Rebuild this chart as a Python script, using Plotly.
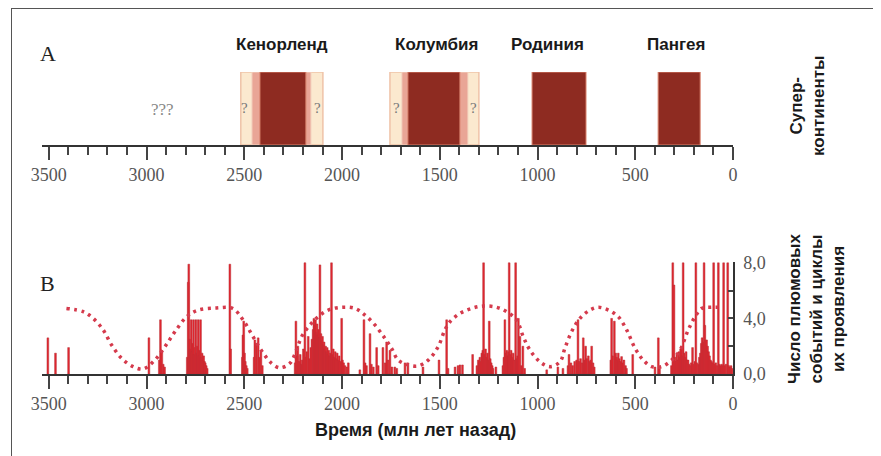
import plotly.graph_objects as go

# ---------------- data ----------------
# Supercontinents (million years ago)
sc_names = ["Кенорленд", "Колумбия", "Родиния", "Пангея"]
sc_start = [2420, 1663, 1028, 383]
sc_end = [2185, 1397, 752, 168]
sc_label_age = [2305, 1515, 947, 292]

# uncertainty bands (Kenorland, Columbia)
unc_outer_start = [2518, 1755]
unc_outer_end = [2098, 1300]
unc_inner_start = [2461, 1694]
unc_inner_end = [2159, 1356]
q_ages = [2497, 2124, 1719, 1330]
qqq_age = 2917

# Plume events (age, count)
plume_age = [3505, 3466, 3399, 2988, 2935, 2929, 2922, 2915, 2908,
             2792, 2787, 2784, 2780, 2776, 2772, 2768, 2764, 2760, 2756, 2752, 2748,
             2744, 2740, 2736, 2732, 2728, 2724, 2720, 2716, 2712, 2708, 2704, 2700,
             2695, 2690, 2574, 2570, 2510, 2507, 2503, 2499, 2495, 2490, 2485,
             2450, 2446, 2438, 2429, 2424, 2415, 2408,
             2240, 2236, 2230, 2226, 2220, 2214, 2208, 2204, 2198, 2190, 2185, 2180,
             2173, 2166, 2160, 2154, 2148, 2144, 2140, 2136, 2132, 2128, 2124, 2120,
             2116, 2113, 2108, 2104, 2100, 2096, 2092, 2088, 2084, 2080, 2076, 2072,
             2068, 2064, 2060, 2054, 2050, 2045, 2040, 2035, 2030, 2025, 2020, 2015,
             2010, 2002, 1998, 1992, 1985, 1975, 1968,
             1909, 1888, 1882, 1875, 1857, 1850, 1840, 1823, 1815, 1791, 1780, 1772,
             1765, 1755, 1745, 1730, 1720, 1678, 1663, 1586, 1504, 1465, 1458, 1422,
             1407, 1397, 1384, 1332, 1310, 1303, 1298, 1295, 1290, 1285, 1280, 1276,
             1271, 1266, 1261, 1256, 1251, 1247, 1242, 1237, 1232, 1228, 1213,
             1177, 1172, 1167, 1162, 1157, 1152, 1148, 1145, 1140, 1135, 1130, 1125,
             1120, 1112, 1108, 1102, 1098, 1090, 1083, 1075, 1066,
             953, 896, 870, 844, 839, 829, 820, 810, 800, 793, 788, 780, 772, 766,
             760, 754, 748, 740, 734, 728, 723, 716, 710,
             625, 621, 616, 607, 600, 595, 590, 587, 582, 577, 570, 565, 558, 550,
             545, 513, 399, 382, 376,
             315, 308, 302, 297, 292, 287, 282, 277, 272, 268, 263, 259, 255, 250,
             245, 240, 235, 230, 225, 220, 214, 207, 200, 195, 190, 185, 178, 172,
             167, 162, 158, 153, 148, 144, 140, 135, 130, 125, 120, 115, 110, 105,
             99, 94, 88, 82, 75, 70, 64, 58, 53, 48, 42, 36, 27, 22, 16, 10, 5]
plume_val = [2.6, 1.5, 1.9, 2.6, 1.0, 3.9, 1.7, 0.7, 0.5,
             1.2, 6.6, 7.9, 2.5, 1.8, 3.9, 1.6, 2.2, 3.9, 1.4, 1.9, 3.9,
             1.5, 2.0, 3.9, 1.3, 1.7, 3.9, 1.2, 1.5, 1.0, 1.3, 0.9, 0.8,
             0.6, 0.4, 7.9, 1.8, 1.2, 2.8, 3.8, 1.5, 0.9, 0.6, 0.4,
             1.2, 2.45, 2.2, 2.6, 1.2, 1.7, 0.6,
             0.8, 3.8, 1.3, 2.0, 0.9, 1.4, 0.7, 1.0, 1.8, 8.0, 1.2, 1.6,
             2.7, 1.1, 1.9, 2.5, 3.2, 4.0, 3.5, 3.9, 3.0, 3.6, 2.8, 3.2,
             2.6, 7.85, 2.9, 2.4, 2.7, 2.1, 2.3, 1.8, 2.0, 1.6, 1.9, 1.4,
             1.7, 1.3, 1.5, 8.0, 1.4, 1.8, 1.2, 1.6, 1.1, 1.5, 1.0, 1.3,
             0.9, 4.0, 1.0, 0.8, 0.6, 0.5, 0.8,
             0.3, 3.9, 0.8, 0.6, 2.9, 0.7, 0.5, 1.9, 0.6, 1.9, 0.8, 2.3,
             1.0, 1.7, 0.5, 0.5, 0.4, 0.8, 0.8, 0.5, 1.0, 3.9, 0.4, 0.5,
             0.6, 0.65, 0.65, 1.4, 0.6, 1.0, 0.8, 1.2, 0.9, 1.5, 1.7, 8.0,
             1.4, 1.8, 1.2, 1.5, 1.0, 3.8, 1.1, 0.8, 0.6, 0.4, 0.5,
             0.6, 1.2, 3.9, 1.5, 1.7, 1.3, 1.6, 8.0, 1.4, 1.7, 1.2, 1.5,
             1.0, 8.0, 1.1, 1.3, 4.0, 2.7, 0.6, 2.0, 0.4,
             0.3, 0.5, 0.4, 0.6, 1.4, 0.8, 0.6, 0.9, 1.0, 3.9, 0.9, 1.1, 0.8, 2.6,
             1.0, 2.0, 1.1, 1.3, 0.9, 1.0, 2.0, 0.8, 0.5,
             1.0, 4.0, 1.3, 3.8, 1.5, 1.2, 1.0, 1.5, 1.1, 0.9, 1.25, 0.8, 1.0, 0.6,
             0.4, 1.4, 0.5, 2.6, 0.4,
             0.6, 8.0, 6.4, 1.2, 0.9, 1.4, 1.0, 1.6, 1.2, 1.8, 2.0, 1.3, 8.0, 1.5,
             1.2, 1.6, 1.0, 1.0, 0.7, 0.6, 0.8, 1.9, 0.7, 0.9, 8.0, 0.8, 0.7, 1.2,
             1.5, 2.2, 2.6, 2.3, 8.0, 3.5, 2.4, 2.45, 2.0, 1.6, 1.3, 1.0, 0.9, 0.8,
             8.0, 0.7, 0.8, 0.6, 8.0, 0.7, 0.6, 0.7, 0.6, 8.0, 0.6, 0.7, 8.0, 0.6, 0.5, 0.6, 0.4]

# Cycles of plume activity (dotted curve)
cycle_age = [3410, 3324, 3273, 3222, 3179, 3128, 3069, 3017, 2958, 2906, 2855,
             2795, 2736, 2642, 2560, 2506, 2455, 2403, 2360, 2318, 2267, 2233,
             2207, 2164, 2122, 2071, 2002, 1934, 1883, 1832, 1781, 1745, 1713,
             1661, 1610, 1559, 1508, 1474, 1448, 1397, 1337, 1277, 1209, 1158,
             1107, 1073, 1039, 988, 936, 885, 860, 826, 783, 732, 689, 638, 587,
             544, 501, 459, 416, 365, 314, 271, 229, 194, 160, 109, 50]
cycle_val = [4.72, 4.48, 4.0, 3.17, 2.09, 1.13, 0.53, 0.36, 1.0, 1.96, 3.04,
             4.12, 4.6, 4.75, 4.72, 3.88, 2.68, 1.49, 0.77, 0.45, 0.77, 1.73,
             2.68, 3.53, 4.12, 4.6, 4.8, 4.72, 4.24, 3.53, 2.57, 1.8, 1.0,
             0.65, 0.58, 1.0, 1.97, 3.17, 3.76, 4.36, 4.72, 4.89, 4.8, 4.48,
             3.88, 2.68, 1.73, 0.88, 0.53, 0.88, 1.85, 3.04, 4.0, 4.6, 4.8, 4.6, 4.12,
             3.17, 1.85, 1.0, 0.53, 0.53, 1.0, 1.73, 3.17, 4.12, 4.72, 4.8, 4.8]

x_tickvals = [3500, 3000, 2500, 2000, 1500, 1000, 500, 0]
x_ticktext = ["3500", "3000", "2500", "2000", "1500", "1000", "500", "0"]
y_tickvals = [0, 4, 8]
y_ticktext = ["0,0", "4,0", "8,0"]

# ---------------- layout helpers ----------------
OFF = 8                      # page body margin in the browser
W, H = 881 - OFF, 456 - OFF  # figure size so it fills the window exactly

def px_x(p):
    return (p - OFF) / W

def px_y(p):
    return 1 - (p - OFF) / H

SERIF = "Liberation Serif"
SANS = "Liberation Sans"
TICKC = "#444"
LABC = "#555"

fig = go.Figure()

# top panel: supercontinents
fig.add_trace(go.Bar(
    x=[s - e for s, e in zip(unc_outer_start, unc_outer_end)], base=unc_outer_end,
    y=[0.5] * len(unc_outer_end), orientation="h", width=1,
    marker=dict(color="#fbe9cf", line=dict(color="#efc3a8", width=1.5)),
    xaxis="x", yaxis="y", hoverinfo="skip", showlegend=False))
fig.add_trace(go.Bar(
    x=[s - e for s, e in zip(unc_inner_start, unc_inner_end)], base=unc_inner_end,
    y=[0.5] * len(unc_inner_end), orientation="h", width=1,
    marker=dict(color="#e9a596", line=dict(color="#f3d3c0", width=1)),
    xaxis="x", yaxis="y", hoverinfo="skip", showlegend=False))
fig.add_trace(go.Bar(
    x=[s - e for s, e in zip(sc_start, sc_end)], base=sc_end,
    y=[0.5] * len(sc_end), orientation="h", width=1,
    marker=dict(color="#8e2b21", line=dict(color="#d9826c", width=1)),
    xaxis="x", yaxis="y", hoverinfo="skip", showlegend=False))

# bottom panel: plume events
fig.add_trace(go.Bar(
    x=plume_age, y=plume_val, width=9,
    marker=dict(color="#e3262e", line=dict(color="#b83038", width=0.5)),
    xaxis="x2", yaxis="y2", hoverinfo="skip", showlegend=False))
fig.add_trace(go.Scatter(
    x=cycle_age, y=cycle_val, mode="lines",
    line=dict(color="#d53a4c", width=3.5, dash="3px,4.5px", shape="spline", smoothing=1.0),
    xaxis="x2", yaxis="y2", hoverinfo="skip", showlegend=False))

xdom = [px_x(42), px_x(733)]
xaxis_common = dict(
    range=[3535, 0], domain=xdom, showgrid=False, zeroline=False,
    showline=True, linecolor="#333", linewidth=1.5,
    ticks="outside", ticklen=13, tickwidth=2, tickcolor=TICKC,
    tickvals=x_tickvals, ticktext=x_ticktext,
    tickfont=dict(family=SERIF, size=18, color=LABC),
    minor=dict(dtick=100, tick0=0, ticks="outside", ticklen=8, tickwidth=2, tickcolor=TICKC),
    fixedrange=True, automargin=False,
)

fig.update_layout(
    width=W, height=H,
    margin=dict(l=0, r=0, t=0, b=0, pad=0, autoexpand=False),
    paper_bgcolor="white", plot_bgcolor="white",
    barmode="overlay",
    xaxis=dict(anchor="y", **xaxis_common),
    yaxis=dict(domain=[px_y(145), px_y(72)], range=[0, 1], visible=False,
               fixedrange=True, automargin=False),
    xaxis2=dict(anchor="y2", **xaxis_common),
    yaxis2=dict(
        domain=[px_y(374), px_y(374 - 8.05 * 13.9)], range=[0, 8.05], anchor="x2",
        side="right", showgrid=False, zeroline=False,
        showline=True, linecolor="#333", linewidth=1.5,
        ticks="inside", ticklen=5, tickwidth=1.5, tickcolor=TICKC,
        tickvals=y_tickvals, ticktext=y_ticktext, ticklabelstandoff=5,
        tickfont=dict(family=SERIF, size=18, color=LABC),
        minor=dict(tickvals=[2, 6], ticks="inside", ticklen=5, tickwidth=1.5, tickcolor=TICKC),
        fixedrange=True, automargin=False,
    ),
    showlegend=False,
)

# frame
fig.add_shape(type="line", xref="paper", yref="paper",
              x0=px_x(11), x1=1.02, y0=px_y(8.5), y1=px_y(8.5),
              line=dict(color="#555", width=1))
fig.add_shape(type="line", xref="paper", yref="paper",
              x0=px_x(11.5), x1=px_x(11.5), y0=px_y(8), y1=-0.02,
              line=dict(color="#555", width=1))

ann = []
def add_ann(text, x, y, xref="paper", font=None, angle=0):
    ann.append(dict(text=text, x=x, y=y, xref=xref, yref="paper", showarrow=False,
                    xanchor="center", yanchor="middle", textangle=angle, font=font))

# panel letters
add_ann("A", px_x(48), px_y(53), font=dict(family=SERIF, size=22, color="#222"))
add_ann("B", px_x(47), px_y(283), font=dict(family=SERIF, size=22, color="#222"))
# supercontinent names
for name, a in zip(sc_names, sc_label_age):
    add_ann("<b>%s</b>" % name, a, px_y(44), xref="x",
            font=dict(family=SANS, size=17, color="#1a1a1a"))
# question marks
add_ann("???", qqq_age, px_y(109), xref="x", font=dict(family=SERIF, size=17, color="#888"))
for a in q_ages:
    add_ann("?", a, px_y(108), xref="x", font=dict(family=SERIF, size=15, color="#777"))
# right side titles
add_ann("<b>Супер-<br>континенты</b>", px_x(807), px_y(106), angle=-90,
        font=dict(family=SANS, size=17, color="#1a1a1a"))
add_ann("<b>Число плюмовых<br>событий и циклы<br>их проявления</b>", px_x(816), px_y(309),
        angle=-90, font=dict(family=SANS, size=17, color="#1a1a1a"))
# x title
add_ann("<b>Время (млн лет назад)</b>", px_x(415), px_y(430),
        font=dict(family=SANS, size=18, color="#1a1a1a"))
fig.update_layout(annotations=ann)

fig.write_html("out.html")
